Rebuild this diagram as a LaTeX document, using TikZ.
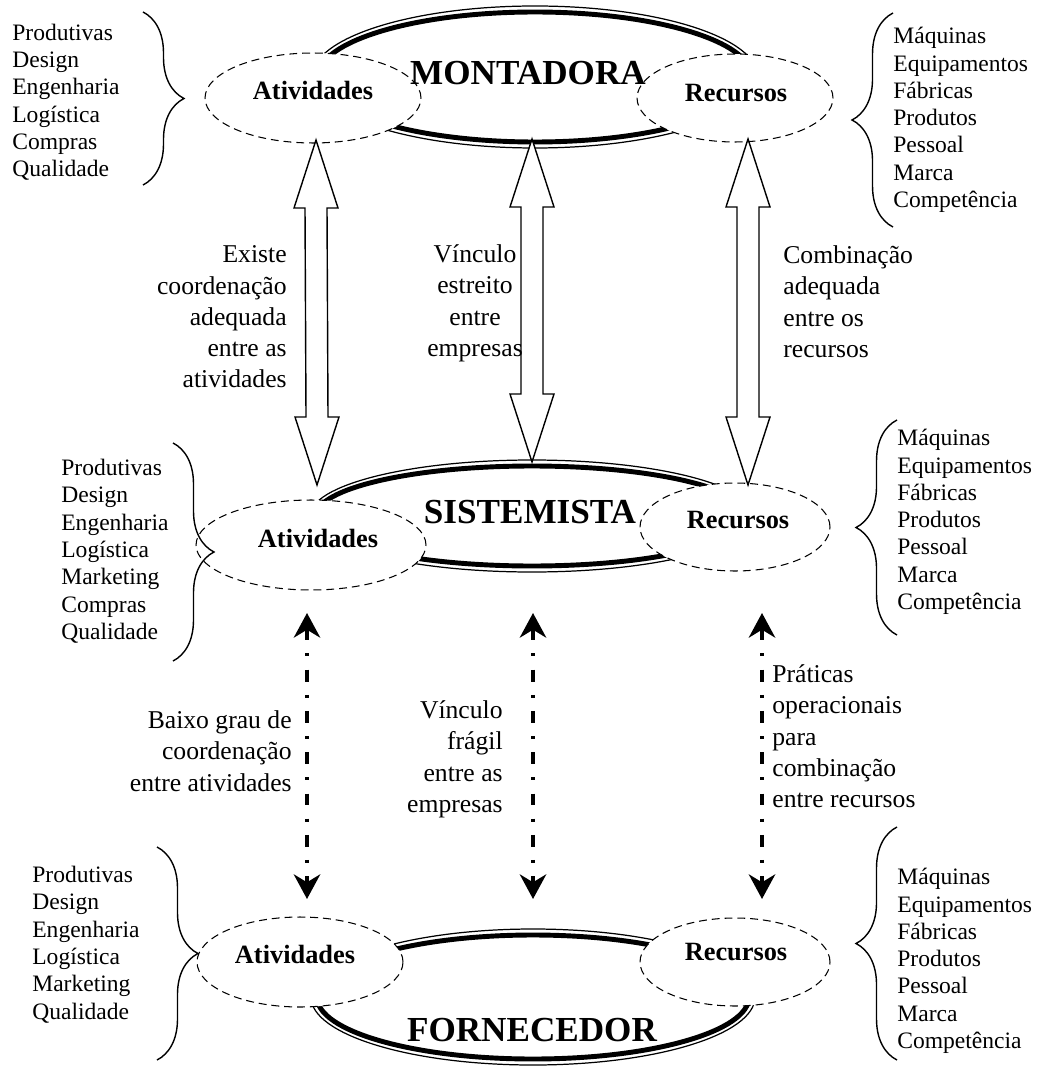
\documentclass[tikz,border=0pt]{standalone}
\usepackage{fontspec}
\setmainfont{Liberation Serif}
\usetikzlibrary{shapes.geometric,arrows.meta,decorations.pathreplacing,calc}
\begin{document}
\begin{tikzpicture}[x=0.02cm,y=-0.02cm,
  dell/.style={ellipse,draw,dash pattern=on 4.5pt off 2.8pt,line width=0.6pt,fill=white,inner sep=0pt},
  reg/.style={font=\fontsize{13.4}{15.53}\selectfont,inner sep=0pt},
  lbl/.style={font=\fontsize{14.6}{17.8}\selectfont,inner sep=0pt},
  bld/.style={font=\fontsize{15}{18}\selectfont\bfseries,inner sep=0pt,anchor=base},
  big/.style={font=\fontsize{20}{24}\selectfont\bfseries,inner sep=0pt,anchor=base},
  brc/.style={line width=0.8pt,decorate,decoration={brace,amplitude=0.82cm}},
  blk/.style={draw,fill=white,line width=0.8pt,line join=miter},
  dd/.style={line width=2.3pt,dash pattern=on 6.8pt off 7.5pt on 1.7pt off 7.5pt,
    {Stealth[length=14pt,width=15pt,inset=4.5pt]}-{Stealth[length=14pt,width=15pt,inset=4.5pt]}}]
\useasboundingbox (0,0) rectangle (1039,1067);
\newcommand\bigell[4]{%
  \draw[line width=0.7pt] (#1,#2) ellipse [x radius={#3*0.02cm}, y radius={#4*0.02cm}];
  \draw[line width=2.8pt] (#1,#2) ellipse [x radius={(#3-6)*0.02cm}, y radius={(#4-6)*0.02cm}];}
\newcommand\blockarr[2]{%
  \draw[blk] (#1) -- ++(22,68) -- ++(-11,0) -- ($(#2)+(11,-68)$) -- ++(11,0) -- (#2)
    -- ++(-22,-68) -- ++(11,0) -- ($(#1)+(-11,68)$) -- ++(-11,0) -- cycle;}
% big ellipses
\bigell{535}{77}{223}{71}
\bigell{532}{516}{222}{56}
\bigell{533}{997}{222}{68}
% dashed ellipses
\node[dell,minimum width=4.32cm,minimum height=1.8cm] (at1) at (313,98) {};
\node[dell,minimum width=3.92cm,minimum height=1.76cm] (re1) at (735,98) {};
\node[dell,minimum width=4.6cm,minimum height=1.8cm] (at2) at (311,545) {};
\node[dell,minimum width=3.8cm,minimum height=1.76cm] (re2) at (735,527) {};
\node[dell,minimum width=4.12cm,minimum height=1.8cm] (at3) at (300,962) {};
\node[dell,minimum width=3.8cm,minimum height=1.76cm] (re3) at (735,962) {};
% ellipse texts
\node[bld] (tat1) at (313,100) {Atividades};
\node[bld] (tre1) at (736,102) {Recursos};
\node[bld] (tat2) at (318,547) {Atividades};
\node[bld] (tre2) at (738,528) {Recursos};
\node[bld] (tat3) at (295,963) {Atividades};
\node[bld] (tre3) at (736,960) {Recursos};
\node[big] (mont) at (528,85) {MONTADORA};
\node[big] (sist) at (530,523) {SISTEMISTA};
\node[big] (forn) at (532,1041) {FORNECEDOR};
% arrow end coordinates
\coordinate (a1t) at (316,140); \coordinate (a1b) at (317,485);
\coordinate (a2t) at (532,139); \coordinate (a2b) at (532,462);
\coordinate (a3t) at (748,139); \coordinate (a3b) at (748,485);
\coordinate (d1t) at (307,613); \coordinate (d1b) at (307,899);
\coordinate (d2t) at (533,613); \coordinate (d2b) at (533,899);
\coordinate (d3t) at (762,613); \coordinate (d3b) at (762,899);
\blockarr{a1t}{a1b}
\blockarr{a2t}{a2b}
\blockarr{a3t}{a3b}
\draw[dd] (d1t) -- (d1b);
\draw[dd] (d2t) -- (d2b);
\draw[dd] (d3t) -- (d3b);
% arrow labels
\node[lbl,align=right,anchor=north east] (l1) at (287,245.4) {Existe\\coordenação\\adequada\\entre as\\atividades};
\node[lbl,align=center,anchor=north] (l2) at (475,244.4) {Vínculo\\estreito\\entre\\empresas};
\node[lbl,align=left,anchor=north west] (l3) at (783,245.4) {Combinação\\adequada\\entre os\\recursos};
\node[lbl,align=right,anchor=north east] (l4) at (292,710.4) {Baixo grau de\\coordenação\\entre atividades};
\node[lbl,align=right,anchor=north east] (l5) at (503,700.4) {Vínculo\\frágil\\entre as\\empresas};
\node[lbl,align=left,anchor=north west] (l6) at (772,664.4) {Práticas\\operacionais\\para\\combinação\\entre recursos};
% lists
\node[reg,align=left,anchor=north west] (ltl) at (12,23.5) {Produtivas\\Design\\Engenharia\\Logística\\Compras\\Qualidade};
\node[reg,align=left,anchor=north west] (ltr) at (893,27) {Máquinas\\Equipamentos\\Fábricas\\Produtos\\Pessoal\\Marca\\Competência};
\node[reg,align=left,anchor=north west] (lml) at (61,459) {Produtivas\\Design\\Engenharia\\Logística\\Marketing\\Compras\\Qualidade};
\node[reg,align=left,anchor=north west] (lmr) at (897,429) {Máquinas\\Equipamentos\\Fábricas\\Produtos\\Pessoal\\Marca\\Competência};
\node[reg,align=left,anchor=north west] (lbl) at (32,866) {Produtivas\\Design\\Engenharia\\Logística\\Marketing\\Qualidade};
\node[reg,align=left,anchor=north west] (lbr) at (897,868) {Máquinas\\Equipamentos\\Fábricas\\Produtos\\Pessoal\\Marca\\Competência};
% braces
\draw[brc] (143,12) -- (143,185);
\draw[brc] (893,227) -- (893,13);
\draw[brc] (173,443) -- (173,661);
\draw[brc] (897,635) -- (897,420);
\draw[brc] (157,847) -- (157,1060);
\draw[brc] (897,1060) -- (897,827);
\end{tikzpicture}
\end{document}
